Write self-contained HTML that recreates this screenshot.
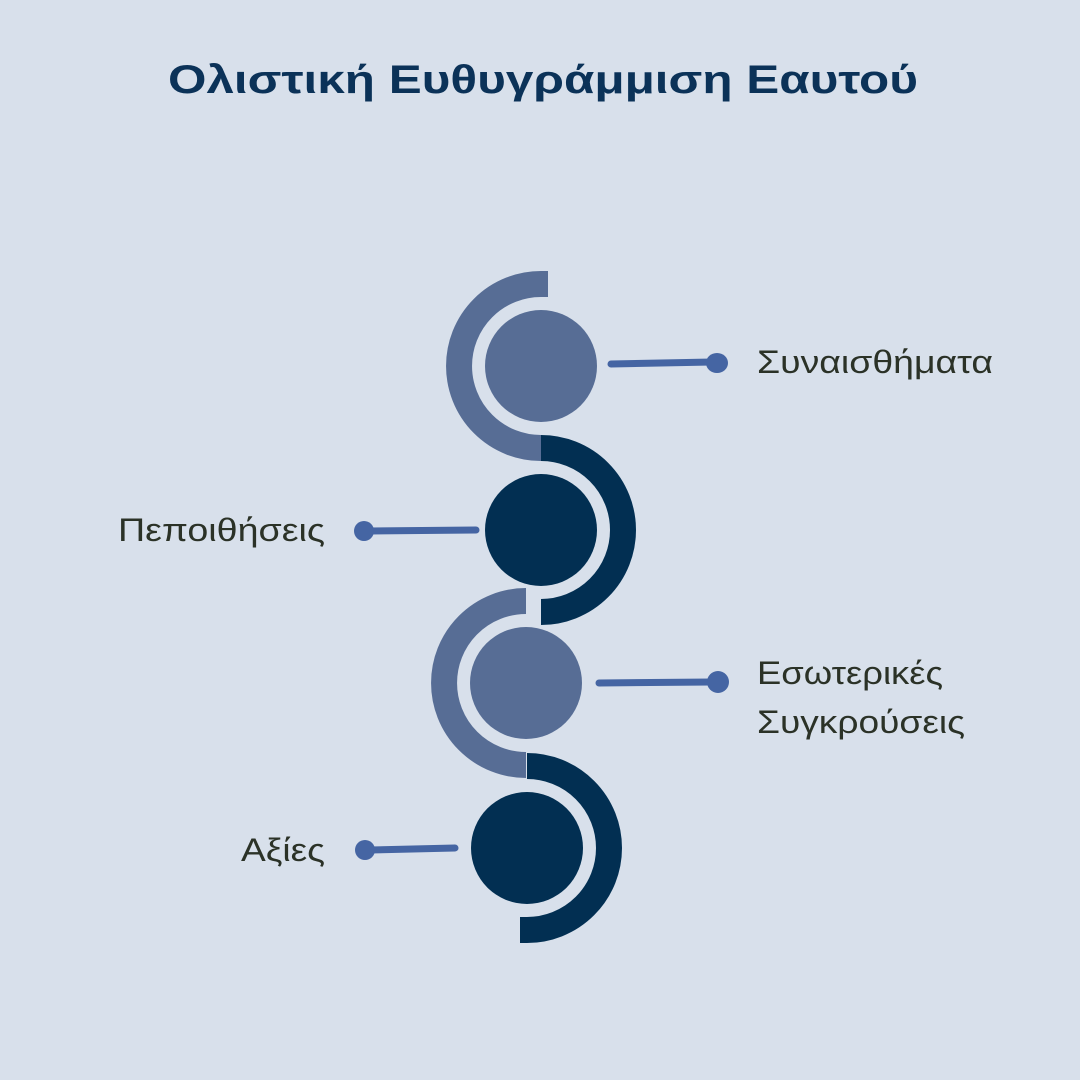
<!DOCTYPE html>
<html><head><meta charset="utf-8"><style>
html,body{margin:0;padding:0;background:#d8e0eb;}
svg{display:block}
text{font-family:"Liberation Sans","DejaVu Sans",sans-serif;}
</style></head><body>
<svg width="1080" height="1080" viewBox="0 0 1080 1080" xmlns="http://www.w3.org/2000/svg">
<rect width="1080" height="1080" fill="#d8e0eb"/>
<text x="168" y="93" font-size="40" font-weight="bold" fill="#0b3258" textLength="750" lengthAdjust="spacingAndGlyphs">Ολιστική Ευθυγράμμιση Εαυτού</text>

<path d="M548 284 L541 284 A82 82 0 0 0 541 448" fill="none" stroke="#576d95" stroke-width="26"/>
<circle cx="541" cy="366" r="56" fill="#576d95"/>
<path d="M541 448 A82 82 0 0 1 541 612" fill="none" stroke="#022f52" stroke-width="26"/>
<circle cx="541" cy="530" r="56" fill="#022f52"/>
<path d="M526 601 A82 82 0 0 0 526 765" fill="none" stroke="#576d95" stroke-width="26"/>
<circle cx="526" cy="683" r="56" fill="#576d95"/>
<path d="M527 766 A82 82 0 0 1 527 930 L520 930" fill="none" stroke="#022f52" stroke-width="26"/>
<circle cx="527" cy="848" r="56" fill="#022f52"/>

<g stroke="#4565a3" stroke-width="7" stroke-linecap="round">
<line x1="611" y1="364" x2="712" y2="362"/>
<line x1="370" y1="531" x2="476" y2="530"/>
<line x1="599" y1="683" x2="712" y2="682"/>
<line x1="370" y1="850" x2="455" y2="848"/>
</g>
<g fill="#4565a3">
<ellipse cx="717" cy="363" rx="11" ry="10"/>
<ellipse cx="364" cy="531" rx="10" ry="10"/>
<ellipse cx="718" cy="682" rx="11" ry="11"/>
<ellipse cx="365" cy="850" rx="10" ry="10"/>
</g>
<g font-size="32" fill="#2b3227">
<text x="757" y="373" textLength="236" lengthAdjust="spacingAndGlyphs">Συναισθήματα</text>
<text x="118" y="541" textLength="207" lengthAdjust="spacingAndGlyphs">Πεποιθήσεις</text>
<text x="757" y="684" textLength="186" lengthAdjust="spacingAndGlyphs">Εσωτερικές</text>
<text x="757" y="733" textLength="208" lengthAdjust="spacingAndGlyphs">Συγκρούσεις</text>
<text x="241" y="861" textLength="84" lengthAdjust="spacingAndGlyphs">Αξίες</text>
</g>
</svg>
</body></html>
